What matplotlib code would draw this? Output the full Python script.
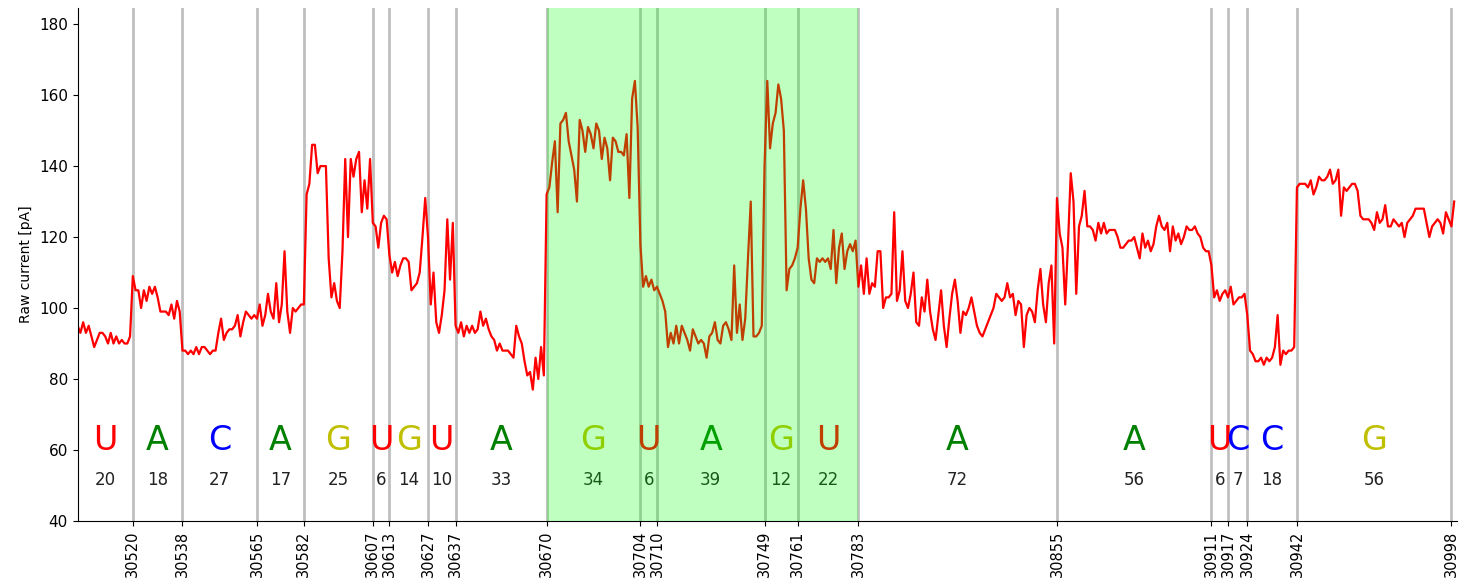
import numpy as np
import matplotlib
matplotlib.use("Agg")
import matplotlib.pyplot as plt

# segment borders (sample index) and the called base of each segment
borders = [30500, 30520, 30538, 30565, 30582, 30607, 30613, 30627, 30637, 30670,
           30704, 30710, 30749, 30761, 30783, 30855, 30911, 30917, 30924, 30942, 30998]
bases = ["U", "A", "C", "A", "G", "U", "G", "U", "A", "G",
         "U", "A", "G", "U", "A", "A", "U", "C", "C", "G"]
base_colors = {"U": "r", "A": "g", "C": "b", "G": "y"}

# highlighted region
highlight = (30670, 30783)

# raw current [pA], one value per sample starting at 30500
raw_current = [
    95, 93, 96, 93, 95, 92, 89, 91, 93, 93, 92, 90, 93, 90, 92, 90, 91, 90, 90, 92,
    109, 105, 105, 100, 105, 102, 106, 104, 106, 103, 99, 99, 99, 98, 101, 97, 102, 99,
    88, 88, 87, 88, 87, 89, 87, 89, 89, 88, 87, 88, 88, 93, 97, 91, 93, 94, 94, 95, 98, 92, 96, 99, 98, 97, 98,
    97, 101, 95, 98, 104, 99, 97, 107, 96, 101, 116, 99, 93, 100, 99, 100, 101,
    101, 132, 135, 146, 146, 138, 140, 140, 140, 114, 103, 107, 102, 100, 116, 142, 120, 142, 137, 142,
    144, 127, 136, 128, 142,
    124, 123, 117, 124, 126, 125,
    115, 110, 113, 109, 112, 114, 114, 113, 105, 106, 107, 110, 120, 131,
    120, 101, 110, 96, 93, 98, 105, 125, 108, 124,
    95, 93, 96, 92, 95, 93, 95, 93, 94, 99, 95, 97, 94, 92, 91, 88, 90, 88, 88, 88,
    87, 86, 95, 92, 90, 85, 81, 82, 77, 86, 80, 89, 81,
    132, 134, 141, 147, 127, 152, 153, 155, 147, 143, 139, 130, 153, 150, 144, 151, 149, 145, 152, 150,
    142, 148, 145, 136, 148, 147, 144, 144, 143, 149, 131, 159, 164, 151,
    118, 106, 109, 106, 108, 105,
    106, 104, 102, 99, 89, 93, 90, 95, 90, 95, 93, 91, 88, 94, 92, 90, 91, 90, 86, 92,
    93, 96, 91, 90, 95, 96, 94, 91, 112, 93, 101, 91, 97, 114, 130, 92, 92, 93, 95,
    140, 164, 145, 152, 155, 163, 159, 150, 105, 111, 112, 114,
    117, 128, 136, 128, 114, 108, 107, 114, 113, 114, 113, 114, 111, 122, 107, 117, 121, 111, 116, 118,
    116, 119,
    106, 112, 104, 114, 104, 107, 106, 116, 116, 100, 103, 103, 104, 127, 102, 105, 116, 102, 100, 104,
    110, 96, 95, 103, 99, 108, 99, 94, 91, 98, 105, 95, 89, 97, 104, 108, 102, 93, 99, 98,
    100, 103, 99, 95, 93, 92, 94, 96, 98, 100, 104, 103, 102, 103, 107, 103, 104, 98, 102, 101,
    89, 98, 100, 99, 96, 105, 111, 101, 96, 107, 112, 90,
    131, 121, 117, 101, 118, 138, 130, 104, 123, 126, 133, 123, 123, 122, 119, 124, 121, 124, 121, 122,
    122, 122, 120, 117, 117, 118, 119, 119, 120, 117, 114, 121, 117, 119, 116, 118, 123, 126, 123, 122,
    124, 116, 123, 119, 121, 118, 120, 123, 122, 122, 123, 121, 120, 117, 116, 116,
    112, 103, 105, 102, 104, 105,
    103, 106, 101, 102, 103, 103, 104,
    98, 88, 87, 85, 85, 86, 84, 86, 85, 86, 89, 98, 84, 88, 87, 88, 88, 89,
    134, 135, 135, 135, 134, 136, 132, 134, 137, 136, 136, 137, 139, 135, 136, 139, 126, 134, 133, 134,
    135, 135, 133, 126, 125, 125, 125, 124, 122, 127, 124, 125, 129, 123, 123, 125, 124, 123, 124, 120,
    124, 125, 126, 128, 128, 128, 128, 124, 120, 123, 124, 125, 124, 121, 127, 125, 123, 130,
]

x = np.arange(borders[0], borders[0] + len(raw_current))

fig = plt.figure(figsize=(14.65, 5.84), dpi=100)
ax = fig.add_axes([0.053, 0.108, 0.9415, 0.878])

ax.plot(x, raw_current, color="r", lw=1.6, zorder=2)

for b in borders[1:]:
    ax.axvline(b, color="gray", alpha=0.5, lw=2, zorder=1)

for i, base in enumerate(bases):
    mid = (borders[i] + borders[i + 1]) / 2
    ax.text(mid, 60, base, color=base_colors[base], fontsize=24,
            ha="center", va="baseline", zorder=3)
    ax.text(mid, 50, str(borders[i + 1] - borders[i]), color="#222222", fontsize=12,
            ha="center", va="baseline", zorder=3)

ax.axvspan(highlight[0], highlight[1], color="lime", alpha=0.25, lw=0, zorder=5)

ax.set_xlim(30500, 31000)
ax.set_ylim(40, 184.5)
ax.set_yticks(range(40, 181, 20))
ax.set_xticks(borders[1:])
ax.set_xticklabels([str(b) for b in borders[1:]], rotation=90, fontsize=10.5)
ax.tick_params(axis="y", labelsize=11)
ax.set_ylabel("Raw current [pA]", fontsize=10)
ax.spines["top"].set_visible(False)
ax.spines["right"].set_visible(False)

fig.savefig("out.png", dpi=100)
